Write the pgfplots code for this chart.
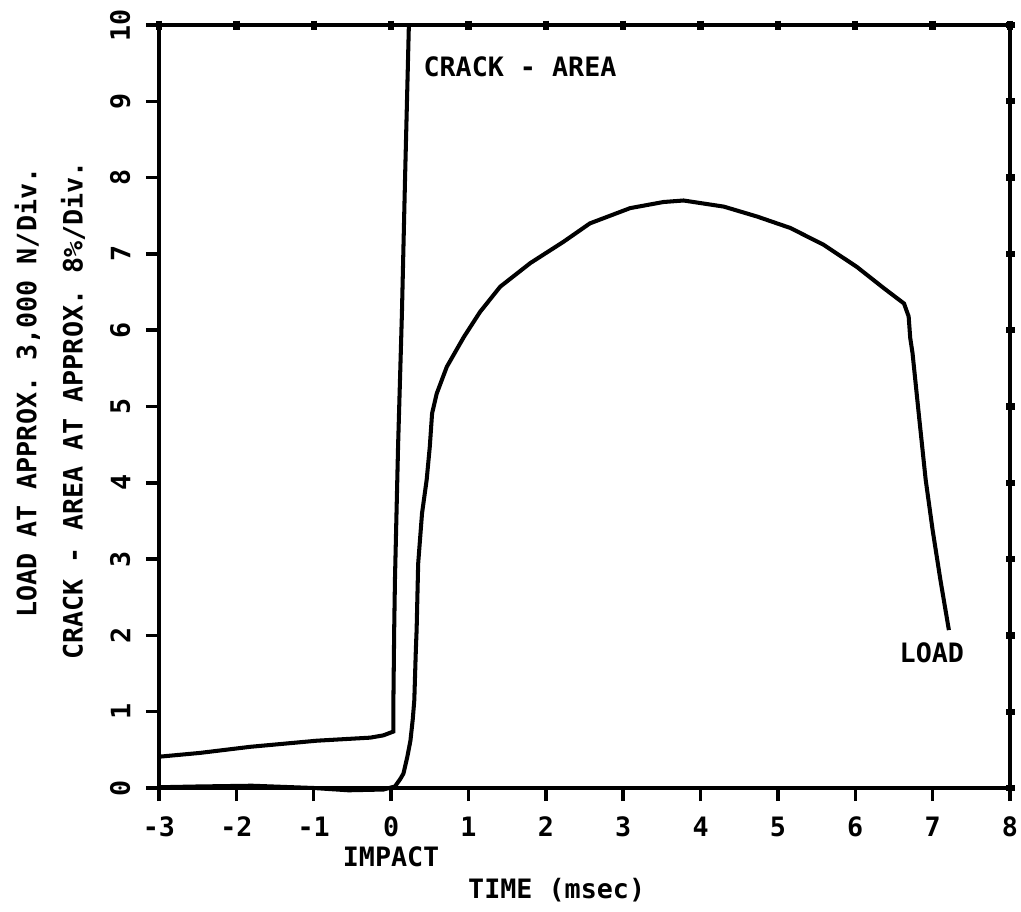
\documentclass[border=0pt]{standalone}
\usepackage{fontspec}
\setmainfont{DejaVu Sans Mono}
\usepackage{pgfplots}
\pgfplotsset{compat=1.18}

\pgfplotstableread{
x y
-3.00 0.01
-2.50 0.02
-1.80 0.03
-1.00 0.00
-0.55 -0.03
-0.10 -0.02
0.05 0.02
0.12 0.12
0.16 0.19
0.21 0.41
0.25 0.62
0.28 0.90
0.30 1.15
0.32 1.81
0.33 2.07
0.35 2.94
0.40 3.60
0.46 4.04
0.50 4.47
0.53 4.91
0.59 5.17
0.72 5.52
0.94 5.91
1.15 6.24
1.41 6.57
1.80 6.88
2.23 7.16
2.57 7.40
3.09 7.60
3.52 7.68
3.78 7.70
4.30 7.62
4.73 7.49
5.16 7.34
5.59 7.12
6.02 6.83
6.37 6.55
6.63 6.35
6.69 6.18
6.71 5.90
6.74 5.70
6.82 4.91
6.91 4.04
7.00 3.38
7.10 2.73
7.21 2.07
}\loadtable

\pgfplotstableread{
x y
-3.00 0.41
-2.47 0.46
-1.82 0.54
-0.96 0.62
-0.27 0.66
-0.10 0.69
0.03 0.74
0.03 1.15
0.04 2.07
0.05 2.73
0.09 4.47
0.14 6.22
0.18 7.97
0.23 10.00
}\cracktable

\begin{document}
\begin{tikzpicture}[font=\fontsize{7.6}{9}\selectfont\bfseries]
% ── frame with outside ticks on bottom and left ──
\begin{axis}[
    name=ax, at={(0,0)}, anchor=south west,
    scale only axis, width=85.1mm, height=76.3mm,
    xmin=-3, xmax=8, ymin=0, ymax=10,
    xtick={-3,-2,-1,0,1,2,3,4,5,6,7,8},
    xticklabels={-3,-2,-1,0,1,2,3,4,5,6,7,8},
    ytick={0,1,2,3,4,5,6,7,8,9,10},
    yticklabels={0,1,2,3,4,5,6,7,8,9,10},
    xtick pos=left, ytick pos=left,
    tick align=outside, major tick length=1.3mm,
    tick style={line width=1pt, black},
    axis line style={line width=1pt},
    xticklabel style={anchor=north, inner sep=0pt},
    yticklabel style={rotate=90, anchor=south, inner sep=0pt},
    xticklabel shift=1.5mm, yticklabel shift=1.5mm,
    clip=false,
]
\addplot[black, line width=1.15pt] table[x=x, y=y] {\loadtable};
\addplot[black, line width=1.15pt] table[x=x, y=y] {\cracktable};
\node[anchor=west, inner sep=0pt] at (axis cs:0.41,9.45) {CRACK - AREA};
\node[inner sep=0pt] at (axis cs:6.99,1.77) {LOAD};
\node[inner sep=0pt] at (axis cs:0,-0.90) {IMPACT};
\node[inner sep=0pt] at (axis cs:2.14,-1.34) {TIME (msec)};
\node[rotate=90, inner sep=0pt] at (axis cs:-4.70,5.18) {LOAD AT APPROX. 3,000 N/Div.};
\node[rotate=90, inner sep=0pt] at (axis cs:-4.11,4.95) {CRACK - AREA AT APPROX. 8\%/Div.};
\end{axis}
% ── small crossing ticks on top and right ──
\begin{axis}[
    at={(0,0)}, anchor=south west,
    scale only axis, width=85.1mm, height=76.3mm,
    xmin=-3, xmax=8, ymin=0, ymax=10,
    xtick={-3,-2,-1,0,1,2,3,4,5,6,7,8},
    ytick={0,1,2,3,4,5,6,7,8,9,10},
    xticklabels={}, yticklabels={},
    xtick pos=right, ytick pos=right,
    tick align=center, major tick length=0.9mm,
    tick style={line width=1.8pt, black},
    axis line style={line width=1pt},
]
\end{axis}
\pgfresetboundingbox
\path (-15.9mm,-12.3mm) rectangle (86.2mm,78.8mm);
\end{tikzpicture}
\end{document}
